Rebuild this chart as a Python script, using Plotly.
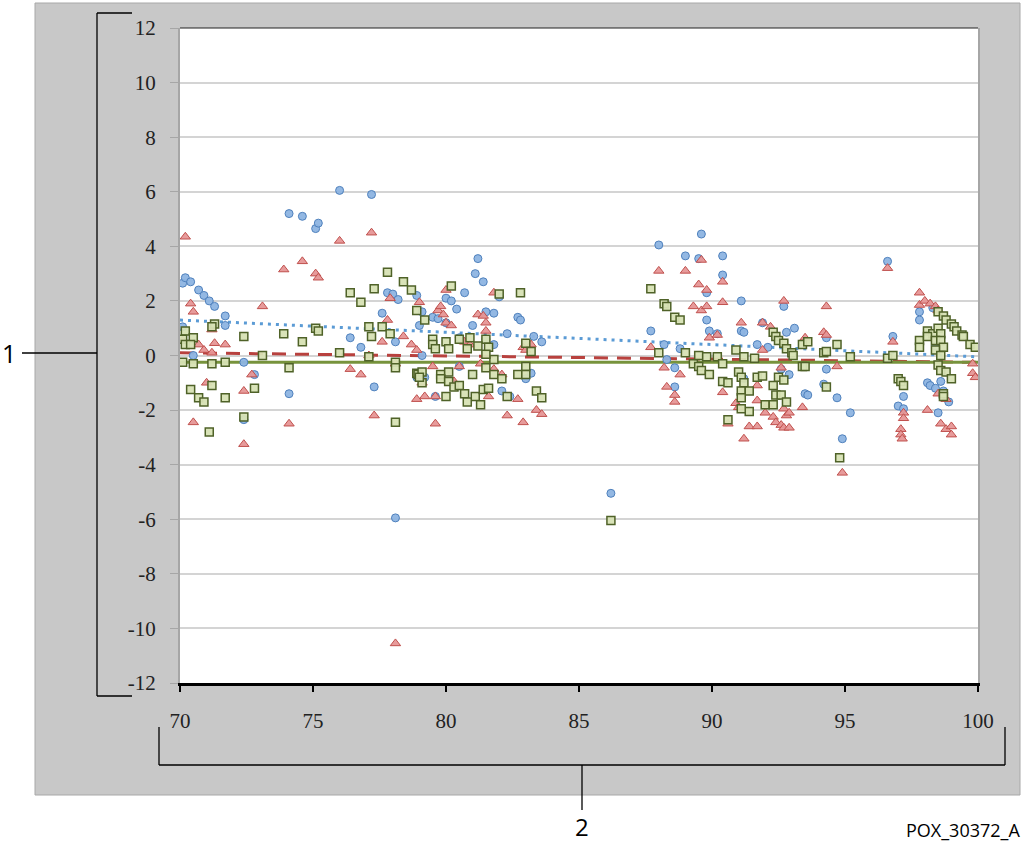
import plotly.graph_objects as go

# ---------------- data ----------------
blue_x = [70.1, 70.2, 70.4, 70.7, 70.9, 71.1, 71.3, 71.7, 71.7, 70.1, 70.5, 72.4, 72.8, 72.4, 74.1,
          74.1, 74.6, 75.1, 75.2, 76.0, 77.2, 76.4, 76.8, 77.3, 77.6, 77.8, 78.0, 78.2, 78.1, 78.1,
          78.9, 79.0, 79.1, 79.5, 79.7, 80.0, 79.1, 78.9, 79.2, 79.6, 80.0, 80.2, 80.4, 80.7, 81.1,
          81.2, 81.4, 81.5, 81.8, 82.0, 82.7, 82.8, 81.0, 80.5, 82.3, 83.3, 83.6, 81.5, 81.8, 81.0,
          82.1, 82.4, 83.2, 83.0, 80.5, 86.2, 87.7, 88.0, 88.2, 88.3, 88.6, 88.6, 88.8, 89.0, 89.5,
          89.6, 89.8, 89.8, 89.9, 90.2, 90.4, 90.4, 91.1, 91.1, 91.2, 91.7, 91.9, 91.2, 92.1, 92.6,
          92.7, 92.8, 92.9, 93.1, 93.5, 93.6, 94.3, 94.3, 94.2, 94.7, 95.2, 94.9, 96.6, 96.8, 97.2,
          97.0, 97.2, 97.8, 97.8, 98.3, 98.1, 98.2, 98.4, 98.6, 98.7, 98.5, 98.9, 98.4]
blue_y = [2.65, 2.85, 2.7, 2.4, 2.2, 2.0, 1.8, 1.45, 1.1, 1.05, 0.0, -0.25, -0.7, -2.35, -1.4,
          5.2, 5.1, 4.65, 4.85, 6.05, 5.9, 0.65, 0.3, -1.15, 1.55, 2.3, 2.25, 2.05, 0.5, -5.95,
          2.2, 1.1, 1.6, 1.4, 1.35, 1.2, 0.0, -0.8, -0.8, -1.5, 2.1, 2.0, 1.7, 2.3, 3.0,
          3.55, 2.7, 1.6, 1.55, 2.15, 1.4, 1.3, 1.1, 0.65, 0.8, 0.7, 0.5, 0.6, 0.4, -0.7,
          -1.3, -1.5, -0.65, -0.85, -0.4, -5.05, 0.9, 4.05, 0.4, -0.15, -0.45, -1.15, 0.25, 3.65, 3.55,
          4.45, 2.3, 1.3, 0.9, 0.8, 3.65, 2.95, 2.0, 0.9, 0.85, 0.4, 1.2, -0.85, 0.3, -0.5,
          1.8, 0.85, -0.7, 1.0, -1.4, -1.45, 0.65, -0.5, -1.05, -1.55, -2.1, -3.05, 3.45, 0.7, -1.5,
          -1.85, -1.95, 1.6, 1.3, 1.75, -1.0, -1.1, -1.2, -0.95, -1.3, -2.1, -1.7, 0.35]

red_x = [70.2, 70.4, 70.5, 71.2, 71.3, 71.7, 70.7, 70.9, 71.2, 70.1, 73.1, 73.9, 74.6, 75.1, 75.2,
         72.7, 72.4, 71.0, 70.5, 74.1, 72.4, 76.0, 77.2, 77.9, 79.0, 77.8, 77.6, 78.4, 78.7, 78.9,
         77.1, 78.1, 76.4, 76.8, 77.3, 78.9, 79.2, 79.6, 79.5, 79.7, 79.8, 79.9, 80.0, 80.2, 80.0,
         81.2, 81.4, 81.5, 81.5, 81.8, 80.5, 81.3, 81.8, 79.1, 80.3, 79.6, 81.6, 82.1, 82.7, 82.3,
         82.9, 83.4, 83.6, 82.9, 83.0, 83.2, 80.7, 80.9, 78.1, 87.7, 88.0, 88.2, 88.3, 88.6, 88.6,
         88.8, 89.0, 89.3, 89.5, 89.6, 89.6, 89.8, 89.8, 89.9, 90.2, 90.4, 90.4, 91.1, 91.9, 92.2,
         92.7, 93.5, 94.3, 94.2, 94.3, 91.9, 92.6, 90.4, 90.9, 91.7, 91.7, 92.7, 92.8, 92.9, 92.3,
         92.4, 92.6, 92.7, 92.9, 91.4, 91.7, 91.2, 93.4, 92.0, 90.6, 92.1, 91.0, 94.7, 94.9, 96.6,
         96.8, 97.8, 97.8, 98.0, 98.2, 98.4, 98.5, 97.2, 97.2, 97.1, 97.1, 97.15, 98.1, 98.5, 98.6,
         98.8, 99.0, 99.0, 99.8, 99.8, 99.9, 98.8]
red_y = [4.35, 1.9, 1.6, 0.95, 0.45, 0.4, 0.4, 0.2, 0.1, 0.55, 1.8, 3.15, 3.45, 3.0, 2.85,
         -0.7, -1.3, -1.0, -2.45, -2.5, -3.25, 4.2, 4.5, 2.1, 1.95, 1.3, 0.5, 0.7, 0.4, 0.2,
         0.0, -0.3, -0.5, -0.7, -2.2, -1.6, -1.5, -2.5, -0.4, 1.65, 1.8, 1.5, 1.2, 1.1, 2.4,
         1.5, 1.45, 1.2, 0.9, 2.3, -0.4, -0.3, -0.5, -1.0, -0.95, -1.5, -1.5, -0.7, -1.6, -2.2,
         -2.45, -2.0, -2.15, 0.3, 0.2, 0.4, 0.5, 0.4, -10.55, 0.3, 3.1, -0.45, -1.15, -1.45, -1.7,
         -0.7, 3.1, 1.8, 2.6, 3.5, 1.65, 2.4, 1.8, 0.65, 0.75, 2.7, 1.95, 1.2, 1.2, 1.05,
         2.0, 0.65, 1.8, 0.85, 0.75, 0.2, -0.45, -1.35, -1.75, -1.1, -1.65, -1.95, -2.2, -2.1, -2.25,
         -2.45, -2.55, -2.65, -2.65, -2.6, -2.6, -3.05, -1.9, -2.1, -2.5, -1.8, -1.9, -0.4, -4.3, 3.2,
         0.5, 2.3, 1.85, 2.0, 1.9, 1.8, 1.65, -2.1, -2.3, -2.7, -2.9, -3.05, -2.0, -1.4, -2.5,
         -2.7, -2.6, -2.9, -0.3, -0.65, -0.8, -1.6]

green_x = [70.2, 70.1, 70.5, 70.2, 70.4, 70.1, 70.5, 71.2, 71.7, 71.3, 71.2, 70.4, 70.7, 70.9, 71.2,
           71.7, 71.1, 72.4, 72.4, 72.8, 73.1, 73.9, 74.1, 74.6, 75.1, 75.2, 77.8, 78.4, 78.7, 76.4,
           76.8, 77.3, 78.9, 79.2, 77.1, 77.2, 77.6, 77.9, 76.0, 77.1, 78.1, 78.1, 78.9, 78.95, 79.1,
           78.1, 80.2, 82.0, 82.8, 79.5, 79.5, 79.6, 80.0, 80.5, 80.9, 81.5, 81.2, 81.6, 80.8, 80.1,
           81.8, 81.5, 83.0, 83.2, 79.1, 79.0, 79.8, 80.1, 79.8, 80.1, 80.3, 80.5, 81.0, 81.5, 81.8,
           82.1, 82.7, 83.0, 83.0, 80.7, 81.1, 81.4, 81.6, 80.8, 81.3, 80.0, 82.3, 83.4, 83.6, 86.2,
           87.7, 88.2, 88.3, 88.6, 88.8, 88.0, 89.0, 89.3, 89.5, 89.8, 89.5, 89.6, 89.9, 90.2, 90.4,
           90.4, 90.6, 90.9, 91.2, 91.6, 91.0, 91.1, 91.2, 91.1, 91.4, 91.1, 91.7, 91.9, 92.3, 92.5,
           92.7, 92.4, 92.6, 92.8, 92.0, 92.3, 91.4, 91.1, 90.6, 92.3, 92.4, 92.5, 92.7, 92.8, 93.0,
           93.05, 93.4, 93.6, 94.2, 94.3, 94.7, 94.3, 93.4, 93.5, 94.8, 95.2, 96.6, 96.8, 97.0, 97.1,
           97.2, 97.8, 97.8, 98.1, 98.3, 98.1, 98.5, 98.7, 98.8, 99.0, 99.1, 99.2, 99.4, 99.45, 99.7,
           99.9, 98.5, 98.6, 98.4, 98.6, 98.7, 98.4, 98.6, 98.5, 98.6, 98.8, 99.0, 98.7, 98.7]
green_y = [0.9, 0.6, 0.65, 0.4, 0.4, -0.25, -0.3, -0.3, -0.25, 1.15, 1.05, -1.25, -1.55, -1.7, -1.1,
           -1.55, -2.8, 0.7, -2.25, -1.2, 0.0, 0.8, -0.45, 0.5, 1.0, 0.9, 3.05, 2.7, 2.4, 2.3,
           1.95, 2.45, 1.65, 1.3, 1.05, 0.7, 1.05, 0.8, 0.1, -0.05, -0.25, -0.45, -0.65, -0.7, -1.0,
           -2.45, 2.55, 2.25, 2.3, 0.6, 0.4, 0.25, 0.5, 0.6, 0.65, 0.6, 0.35, 0.3, 0.25, 0.25,
           -0.15, 0.05, 0.45, 0.15, -0.6, -0.8, -0.7, -0.6, -0.85, -0.95, -1.15, -1.1, -0.7, -0.45, -0.7,
           -0.85, -0.7, -0.4, -0.7, -1.4, -1.5, -1.25, -1.2, -1.7, -1.8, -1.5, -1.5, -1.3, -1.55, -6.05,
           2.45, 1.9, 1.8, 1.4, 1.3, 0.1, 0.1, -0.3, 0.0, -0.05, -0.4, -0.55, -0.7, -0.05, -0.3,
           -0.95, -1.0, 0.2, -0.05, -0.1, -0.6, -0.8, -1.0, -1.3, -1.3, -1.55, -0.8, -0.75, -1.1, -0.8,
           -0.9, -1.45, -1.45, -1.7, -1.8, -1.8, -2.05, -1.95, -2.35, 0.85, 0.7, 0.55, 0.45, 0.25, 0.1,
           0.0, 0.4, 0.5, 0.1, 0.15, 0.4, -1.15, -0.4, -0.4, -3.75, -0.05, -0.1, 0.0, -0.85, -0.95,
           -1.1, 0.55, 0.3, 0.9, 0.8, 0.7, 1.6, 1.45, 1.3, 1.15, 1.05, 0.9, 0.75, 0.7, 0.4,
           0.3, 1.0, 0.8, 0.55, 0.55, 0.3, 0.2, 0.0, -0.35, -0.55, -0.6, -0.85, -1.4, -1.5]

# trend lines (end values)
trend_x = [70, 100]
blue_trend = [1.3, -0.05]
red_trend = [0.1, -0.25]
green_trend = [-0.25, -0.25]

x_ticks = [70, 75, 80, 85, 90, 95, 100]
y_ticks = [-12, -10, -8, -6, -4, -2, 0, 2, 4, 6, 8, 10, 12]

# ---------------- geometry helpers (pixel -> paper) ----------------
W, H = 1024, 843
L, R, T, B = 180, 978, 28, 683


def px(x):
    return (x - L) / (R - L)


def py(y):
    return (B - y) / (B - T)


fig = go.Figure()

fig.add_trace(go.Scatter(x=trend_x, y=blue_trend, mode="lines",
                         line=dict(color="#5b9bd5", width=3, dash="3px,5px"),
                         hoverinfo="skip", showlegend=False))
fig.add_trace(go.Scatter(x=trend_x, y=red_trend, mode="lines",
                         line=dict(color="#b8413e", width=3, dash="14px,9px"),
                         hoverinfo="skip", showlegend=False))
fig.add_trace(go.Scatter(x=trend_x, y=green_trend, mode="lines",
                         line=dict(color="#77933c", width=3),
                         hoverinfo="skip", showlegend=False))

fig.add_trace(go.Scatter(x=blue_x, y=blue_y, mode="markers", showlegend=False,
                         marker=dict(symbol="circle", size=8, color="rgba(141,180,226,0.95)",
                                     line=dict(color="#4f81bd", width=1))))
fig.add_trace(go.Scatter(x=red_x, y=red_y, mode="markers", showlegend=False,
                         marker=dict(symbol="triangle-up", size=9, color="rgba(230,150,150,0.95)",
                                     line=dict(color="#c0504d", width=1))))
fig.add_trace(go.Scatter(x=green_x, y=green_y, mode="markers", showlegend=False,
                         marker=dict(symbol="square", size=8, color="rgba(215,226,180,0.95)",
                                     line=dict(color="#4f6228", width=1.5))))

shapes = []
# grey frame and white plot area
shapes.append(dict(type="rect", xref="paper", yref="paper", layer="below",
                   x0=px(35), x1=px(1020), y0=py(795), y1=py(3),
                   fillcolor="#c8c8c8", line=dict(color="#a8a8a8", width=1)))
shapes.append(dict(type="rect", xref="paper", yref="paper", layer="below",
                   x0=px(L), x1=px(R), y0=py(B), y1=py(T),
                   fillcolor="white", line=dict(width=0)))
# top border line
shapes.append(dict(type="line", xref="paper", yref="paper", x0=0, x1=1, y0=1, y1=1,
                   line=dict(color="#222222", width=1.2)))


def seg(x0, y0, x1, y1):
    shapes.append(dict(type="line", xref="paper", yref="paper",
                       x0=px(x0), x1=px(x1), y0=py(y0), y1=py(y1),
                       line=dict(color="black", width=1.3)))


# bracket 1 (y axis)
seg(97, 13, 97, 696)
seg(97, 13, 132, 13)
seg(97, 696, 132, 696)
seg(22, 353, 97, 353)
# bracket 2 (x axis)
seg(159, 765, 1005, 765)
seg(159, 727, 159, 765)
seg(1005, 727, 1005, 765)
seg(582, 765, 582, 810)

annotations = [
    dict(text="1", xref="paper", yref="paper", x=px(9), y=py(353), showarrow=False,
         font=dict(family="Open Sans", size=25, color="black"), xanchor="center", yanchor="middle"),
    dict(text="2", xref="paper", yref="paper", x=px(582), y=py(826), showarrow=False,
         font=dict(family="Open Sans", size=24, color="black"), xanchor="center", yanchor="middle",
         borderpad=0),
    dict(text="POX_30372_A", xref="paper", yref="paper", x=px(1021), y=py(830), showarrow=False,
         font=dict(family="Open Sans", size=18, color="black"), xanchor="right", yanchor="middle",
         borderpad=0),
]

fig.update_layout(
    width=W, height=H,
    margin=dict(l=L, r=W - R, t=T, b=H - B, pad=0),
    paper_bgcolor="white",
    plot_bgcolor="rgba(0,0,0,0)",
    shapes=shapes,
    annotations=annotations,
    showlegend=False,
    xaxis=dict(range=[70, 100], tickvals=x_ticks, ticktext=[str(v) for v in x_ticks],
               showgrid=False, zeroline=False, showline=True, linecolor="black", linewidth=2.5,
               ticks="outside", ticklen=6, tickwidth=2, tickcolor="black",
               ticklabelstandoff=11,
               tickfont=dict(family="Liberation Serif", size=21, color="#222222")),
    yaxis=dict(range=[-12, 12], tickvals=y_ticks, ticktext=[str(v) for v in y_ticks],
               showgrid=True, gridcolor="#d4d4d4", gridwidth=1.5, zeroline=False,
               showline=True, linecolor="#a6a6a6", linewidth=2, mirror=True,
               ticks="outside", ticklen=8, tickwidth=1, tickcolor="#a6a6a6",
               ticklabelstandoff=10,
               tickfont=dict(family="Liberation Serif", size=21, color="#222222")),
)

fig.write_html("out.html")
